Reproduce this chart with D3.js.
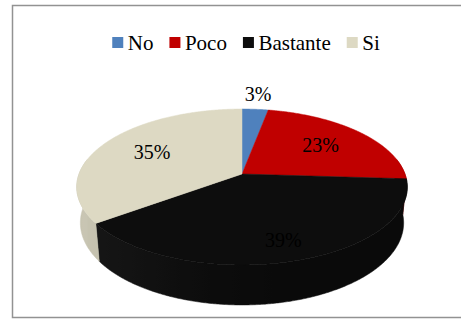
<!DOCTYPE html>
<html>
<head>
<meta charset="utf-8">
<script src="https://cdn.jsdelivr.net/npm/d3@7"></script>
<style>
  html, body { margin: 0; padding: 0; background: #fff; }
  svg { display: block; }
</style>
</head>
<body>
<svg id="chart" width="461" height="320"></svg>
<script>
// Survey answers and their shares
const categories = ["No", "Poco", "Bastante", "Si"];
const values = [3, 23, 39, 35];
const valueLabels = ["3%", "23%", "39%", "35%"];
const colors = ["#4F81BD", "#C00000", "#0D0D0D", "#DDD9C3"];

const svg = d3.select("#chart");
const defs = svg.append("defs");

// Chart frame
svg.append("rect")
  .attr("x", 12.5).attr("y", 5.5)
  .attr("width", 470).attr("height", 312)
  .attr("fill", "#fff")
  .attr("stroke", "#929292")
  .attr("stroke-width", 1.5);

// ---- 3D pie projection (tilted disc seen in perspective) ----
const cx = 242, cy = 174;       // screen position of the disc centre
const radiusPx = 163;           // horizontal radius at the centre depth
const tilt = Math.asin(0.465);  // elevation of the viewer
const sinT = Math.sin(tilt), cosT = Math.cos(tilt);
const dist = 6 * cosT;          // viewer distance, in disc radii
const thick = 0.251;            // slab thickness, in disc radii

function project(x, y, z) {
  const yc = z * sinT + y * cosT;
  const depth = dist + z * cosT - y * sinT;
  const f = dist / depth;
  return [cx + radiusPx * x * f, cy - radiusPx * yc * f];
}
// angle measured clockwise from 12 o'clock, like d3.pie
const rim = (a, r, y) => project(r * Math.sin(a), y, r * Math.cos(a));

const pie = d3.pie().sort(null).value(d => d.value)
  .startAngle(0).endAngle(2 * Math.PI);
const data = categories.map((c, i) => ({
  name: c, value: values[i], label: valueLabels[i], color: colors[i]
}));
const arcs = pie(data);

const line = d3.line();
const step = Math.PI / 360;

function sideColor(base, a) {
  const s = Math.sin(a);
  const lit = d3.interpolateRgb(base, "#ffffff")(Math.max(0, -s) * 0.06);
  return d3.interpolateRgb(lit, "#000000")(0.1 + 0.16 * (1 + s) / 2);
}

// Visible part of the rim (the side facing the viewer)
const visStart = Math.PI / 2 - 0.2, visEnd = 3 * Math.PI / 2 + 0.2;

// Outer walls: one path per slice, shaded with a horizontal gradient
const walls = svg.append("g");
arcs.forEach((d, idx) => {
  const a0 = Math.max(d.startAngle, visStart);
  const a1 = Math.min(d.endAngle, visEnd);
  if (a1 <= a0) return;
  const n = Math.max(2, Math.ceil((a1 - a0) / step));
  const topPts = [], botPts = [], samples = [];
  for (let i = 0; i <= n; i++) {
    const a = a0 + (a1 - a0) * i / n;
    topPts.push(rim(a, 1, 0));
    botPts.push(rim(a, 1, -thick));
    samples.push(a);
  }
  const xs = topPts.map(p => p[0]).concat(botPts.map(p => p[0]));
  const xMin = d3.min(xs), xMax = d3.max(xs);
  const gid = "wall" + idx;
  const grad = defs.append("linearGradient")
    .attr("id", gid)
    .attr("gradientUnits", "userSpaceOnUse")
    .attr("x1", xMin).attr("x2", xMax)
    .attr("y1", 0).attr("y2", 0);
  const stops = samples
    .map((a, i) => ({ off: (topPts[i][0] - xMin) / Math.max(1, xMax - xMin), col: sideColor(d.data.color, a) }))
    .sort((p, q) => p.off - q.off);
  stops.filter((s, i) => i % 6 === 0 || i === stops.length - 1).forEach(s => {
    grad.append("stop").attr("offset", Math.min(1, Math.max(0, s.off))).attr("stop-color", s.col);
  });
  walls.append("path")
    .attr("d", line(topPts.concat(botPts.reverse())) + "Z")
    .attr("fill", `url(#${gid})`)
    .attr("stroke", `url(#${gid})`)
    .attr("stroke-width", 0.5);
});

// Top faces
const tops = svg.append("g");
arcs.forEach(d => {
  const pts = [project(0, 0, 0)];
  const n = Math.max(2, Math.ceil((d.endAngle - d.startAngle) / step));
  for (let i = 0; i <= n; i++) {
    pts.push(rim(d.startAngle + (d.endAngle - d.startAngle) * i / n, 1, 0));
  }
  tops.append("path")
    .attr("d", line(pts) + "Z")
    .attr("fill", d.data.color)
    .attr("stroke", d.data.color)
    .attr("stroke-width", 0.5)
    .attr("stroke-linejoin", "round");
});

// Value labels
const labelFont = "'Liberation Serif', 'Times New Roman', serif";
arcs.forEach(d => {
  const mid = (d.startAngle + d.endAngle) / 2;
  const share = (d.endAngle - d.startAngle) / (2 * Math.PI);
  let r;
  if (share < 0.05) r = 1.28;                         // small slice: label outside
  else r = 0.65 + 0.15 * Math.max(0, -Math.cos(mid)); // front slices sit lower
  const p = rim(mid, r, 0);
  svg.append("text")
    .attr("x", p[0]).attr("y", p[1])
    .attr("dy", "0.34em")
    .attr("text-anchor", "middle")
    .attr("font-family", labelFont)
    .attr("font-size", 20)
    .attr("fill", "#000")
    .text(d.data.label);
});

// Legend across the top
const legend = svg.append("g");
let xCursor = 0;
data.forEach((d, i) => {
  const g = legend.append("g");
  g.append("rect")
    .attr("x", 0).attr("y", 37)
    .attr("width", 11).attr("height", 11)
    .attr("fill", d.color);
  const t = g.append("text")
    .attr("x", 15.5).attr("y", 49.5)
    .attr("font-family", labelFont)
    .attr("font-size", 21)
    .attr("fill", "#000")
    .text(d.name);
  const w = 15.5 + t.node().getComputedTextLength();
  g.attr("transform", `translate(${xCursor},0)`);
  xCursor += w + (i < data.length - 1 ? 16 : 0);
});
legend.attr("transform", `translate(${246 - xCursor / 2},0)`);
</script>
</body>
</html>
